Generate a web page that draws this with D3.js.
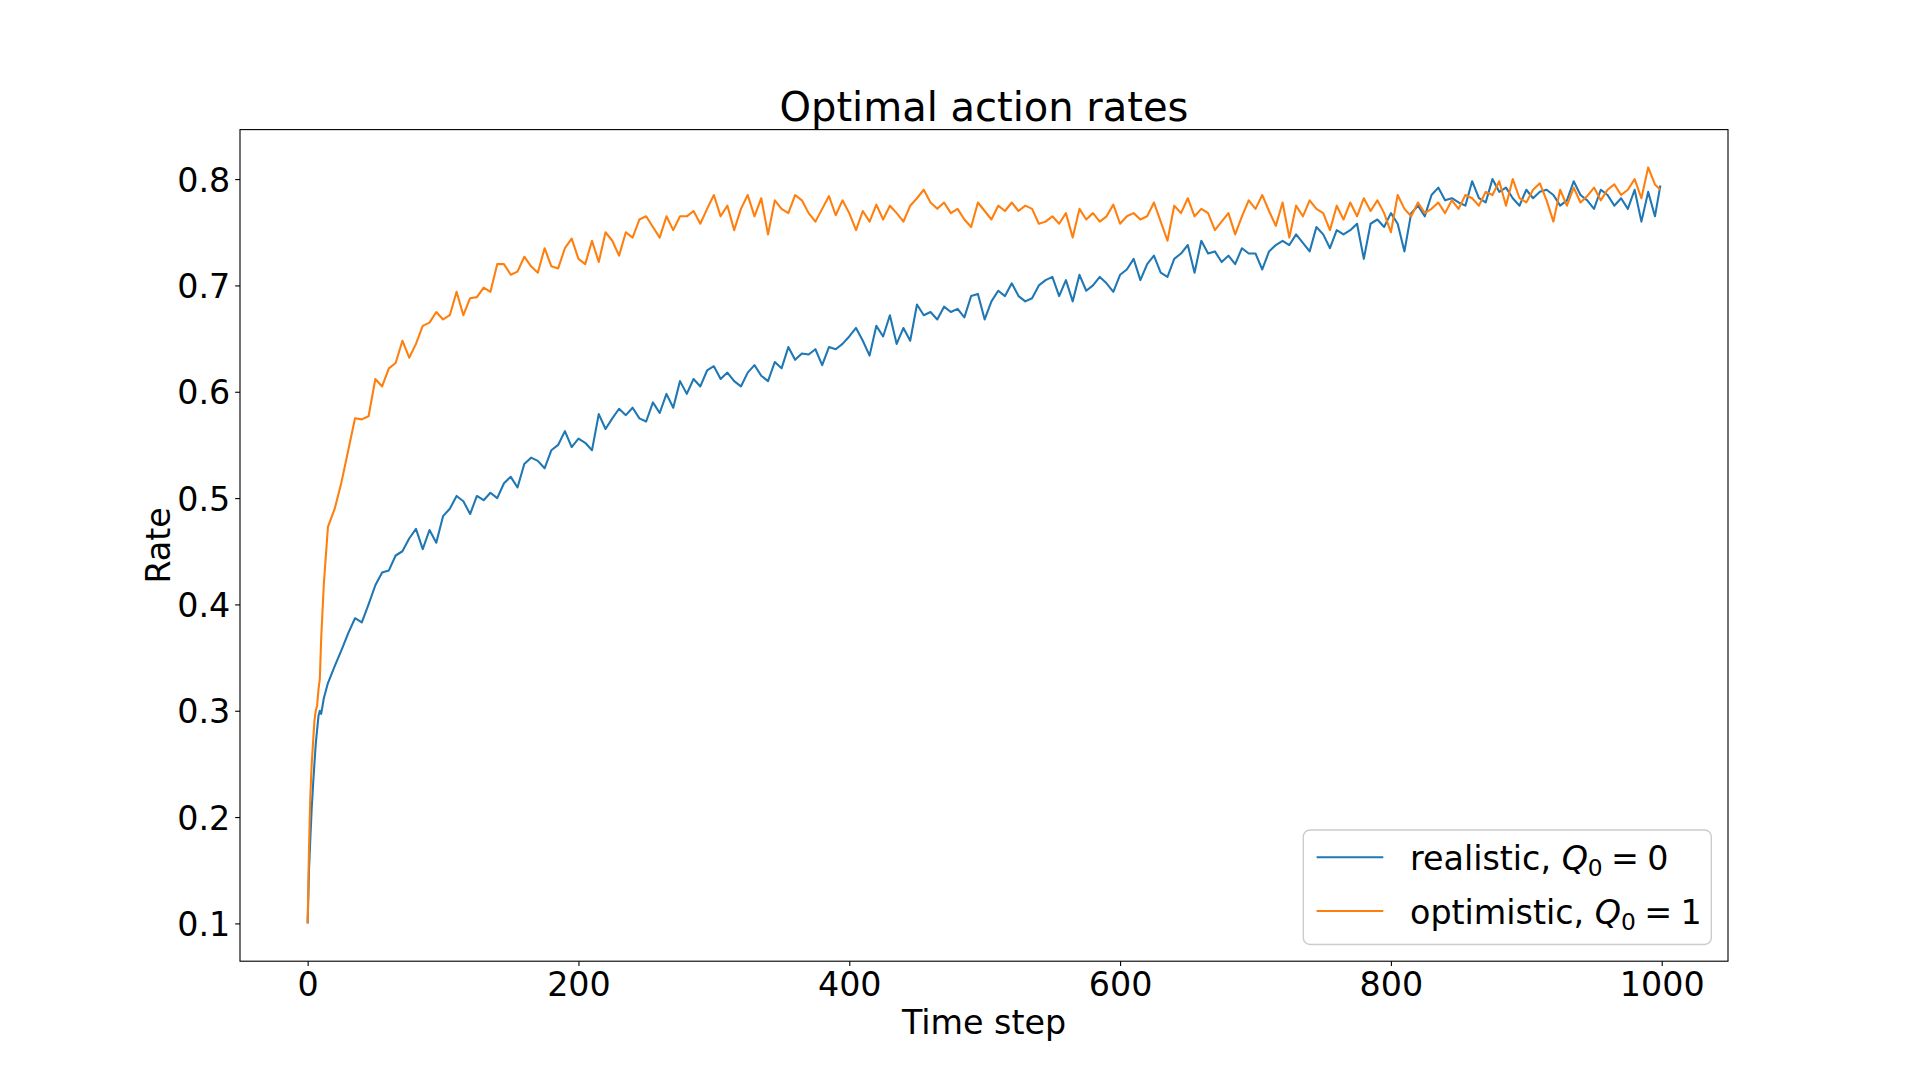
<!DOCTYPE html>
<html>
<head>
<meta charset="utf-8">
<script src="https://cdn.jsdelivr.net/npm/d3@7"></script>
<style>
  body { margin: 0; background: #fff; }
  svg { display: block; font-family: "DejaVu Sans", sans-serif; }
</style>
</head>
<body>
<div id="chart"></div>
<script>
'use strict';

const steps = [0, 1, 2, 3, 4, 5, 6, 7, 8, 9, 10, 12,
  15, 20, 25, 30, 35, 40, 45, 50, 55, 60, 65, 70, 75, 80, 85, 90, 95, 100,
  105, 110, 115, 120, 125, 130, 135, 140, 145, 150, 155, 160, 165, 170, 175, 180, 185, 190, 195, 200,
  205, 210, 215, 220, 225, 230, 235, 240, 245, 250, 255, 260, 265, 270, 275, 280, 285, 290, 295, 300,
  305, 310, 315, 320, 325, 330, 335, 340, 345, 350, 355, 360, 365, 370, 375, 380, 385, 390, 395, 400,
  405, 410, 415, 420, 425, 430, 435, 440, 445, 450, 455, 460, 465, 470, 475, 480, 485, 490, 495, 500,
  505, 510, 515, 520, 525, 530, 535, 540, 545, 550, 555, 560, 565, 570, 575, 580, 585, 590, 595, 600,
  605, 610, 615, 620, 625, 630, 635, 640, 645, 650, 655, 660, 665, 670, 675, 680, 685, 690, 695, 700,
  705, 710, 715, 720, 725, 730, 735, 740, 745, 750, 755, 760, 765, 770, 775, 780, 785, 790, 795, 800,
  805, 810, 815, 820, 825, 830, 835, 840, 845, 850, 855, 860, 865, 870, 875, 880, 885, 890, 895, 900,
  905, 910, 915, 920, 925, 930, 935, 940, 945, 950, 955, 960, 965, 970, 975, 980, 985, 990, 995, 999];

const realistic = [0.100, 0.150, 0.180, 0.208, 0.230, 0.250, 0.269, 0.282, 0.295, 0.300, 0.297, 0.312,
  0.326, 0.342, 0.357, 0.373, 0.387, 0.383, 0.400, 0.418, 0.430, 0.432,
  0.446, 0.450, 0.462, 0.471, 0.452, 0.470, 0.458, 0.483, 0.490, 0.502,
  0.497, 0.485, 0.502, 0.498, 0.505, 0.500, 0.514, 0.520, 0.510, 0.532,
  0.538, 0.535, 0.528, 0.545, 0.550, 0.563, 0.548, 0.556, 0.552, 0.545,
  0.579, 0.565, 0.575, 0.584, 0.578, 0.585, 0.575, 0.572, 0.590, 0.580,
  0.598, 0.585, 0.610, 0.598, 0.612, 0.605, 0.620, 0.624, 0.612, 0.618,
  0.610, 0.605, 0.618, 0.625, 0.615, 0.610, 0.628, 0.622, 0.642, 0.630,
  0.636, 0.635, 0.640, 0.625, 0.642, 0.640, 0.645, 0.652, 0.660, 0.648,
  0.634, 0.662, 0.652, 0.672, 0.645, 0.660, 0.648, 0.682, 0.672, 0.675,
  0.668, 0.680, 0.675, 0.678, 0.670, 0.690, 0.692, 0.668, 0.685, 0.695,
  0.690, 0.702, 0.690, 0.685, 0.688, 0.700, 0.705, 0.708, 0.690, 0.705,
  0.685, 0.710, 0.695, 0.700, 0.708, 0.702, 0.694, 0.710, 0.715, 0.725,
  0.705, 0.720, 0.728, 0.712, 0.708, 0.725, 0.730, 0.738, 0.712, 0.742,
  0.730, 0.732, 0.722, 0.728, 0.720, 0.735, 0.730, 0.730, 0.715, 0.732,
  0.738, 0.742, 0.738, 0.748, 0.740, 0.732, 0.755, 0.748, 0.735, 0.752,
  0.748, 0.752, 0.758, 0.725, 0.758, 0.762, 0.755, 0.768, 0.758, 0.732,
  0.768, 0.775, 0.765, 0.785, 0.792, 0.780, 0.782, 0.778, 0.775, 0.798,
  0.782, 0.778, 0.800, 0.788, 0.792, 0.782, 0.775, 0.790, 0.782, 0.788,
  0.790, 0.785, 0.775, 0.780, 0.798, 0.785, 0.780, 0.772, 0.790, 0.785,
  0.775, 0.782, 0.772, 0.790, 0.760, 0.788, 0.765, 0.794];

const optimistic = [0.100, 0.170, 0.220, 0.250, 0.270, 0.290, 0.300, 0.305, 0.320, 0.330, 0.368, 0.420,
  0.473, 0.490, 0.515, 0.545, 0.575, 0.574, 0.577, 0.612, 0.605, 0.622,
  0.627, 0.648, 0.632, 0.645, 0.662, 0.665, 0.675, 0.668, 0.672, 0.694,
  0.672, 0.688, 0.689, 0.698, 0.694, 0.720, 0.720, 0.710, 0.713, 0.727,
  0.718, 0.712, 0.735, 0.718, 0.716, 0.735, 0.744, 0.725, 0.720, 0.742,
  0.722, 0.750, 0.742, 0.728, 0.750, 0.745, 0.762, 0.765, 0.755, 0.745,
  0.765, 0.752, 0.765, 0.765, 0.770, 0.758, 0.772, 0.785, 0.765, 0.775,
  0.752, 0.772, 0.785, 0.765, 0.782, 0.748, 0.780, 0.772, 0.768, 0.785,
  0.780, 0.768, 0.760, 0.772, 0.784, 0.766, 0.780, 0.768, 0.752, 0.770,
  0.760, 0.776, 0.762, 0.775, 0.768, 0.760, 0.775, 0.782, 0.790, 0.778,
  0.772, 0.778, 0.768, 0.772, 0.762, 0.755, 0.778, 0.770, 0.762, 0.775,
  0.770, 0.778, 0.770, 0.775, 0.772, 0.758, 0.760, 0.765, 0.758, 0.768,
  0.745, 0.772, 0.762, 0.768, 0.760, 0.765, 0.776, 0.758, 0.765, 0.768,
  0.762, 0.765, 0.778, 0.760, 0.742, 0.775, 0.768, 0.782, 0.765, 0.772,
  0.768, 0.752, 0.760, 0.768, 0.748, 0.765, 0.780, 0.772, 0.785, 0.770,
  0.756, 0.778, 0.745, 0.775, 0.765, 0.780, 0.772, 0.768, 0.752, 0.775,
  0.762, 0.778, 0.765, 0.782, 0.770, 0.780, 0.768, 0.750, 0.785, 0.772,
  0.765, 0.778, 0.768, 0.772, 0.778, 0.768, 0.780, 0.772, 0.785, 0.782,
  0.775, 0.788, 0.785, 0.798, 0.775, 0.800, 0.782, 0.778, 0.790, 0.796,
  0.780, 0.760, 0.790, 0.775, 0.792, 0.778, 0.784, 0.792, 0.780, 0.790,
  0.795, 0.785, 0.790, 0.800, 0.782, 0.811, 0.795, 0.790];

const xTicks = [0, 200, 400, 600, 800, 1000];
const yTicks = [0.1, 0.2, 0.3, 0.4, 0.5, 0.6, 0.7, 0.8];

let width = 1920,
    height = 1080,
    margin = {top: 129.6, right: 192, bottom: 118.8, left: 240},
    fontSize = 33.33,
    tickLen = 4.86;

let plotRight = width - margin.right,
    plotBottom = height - margin.bottom;

let svg = d3.select('#chart').append('svg')
    .attr('width', width)
    .attr('height', height);

// 5% margins like matplotlib
let xMin = d3.min(steps), xMax = d3.max(steps),
    xPad = (xMax - xMin) * 0.05;
let allY = realistic.concat(optimistic),
    yMin = d3.min(allY), yMax = d3.max(allY),
    yPad = (yMax - yMin) * 0.05;

let x = d3.scaleLinear()
    .domain([xMin - xPad, xMax + xPad])
    .range([margin.left, plotRight]);

let y = d3.scaleLinear()
    .domain([yMin - yPad, yMax + yPad])
    .range([plotBottom, margin.top]);

//xAxis
let xAxis = svg.append('g')
    .attr('transform', 'translate(0,' + plotBottom + ')')
    .call(d3.axisBottom(x)
      .tickValues(xTicks)
      .tickSize(tickLen)
      .tickPadding(tickLen)
      .tickFormat(d3.format('d')));

//yAxis
let yAxis = svg.append('g')
    .attr('transform', 'translate(' + margin.left + ',0)')
    .call(d3.axisLeft(y)
      .tickValues(yTicks)
      .tickSize(tickLen)
      .tickPadding(tickLen)
      .tickFormat(d3.format('.1f')));

[xAxis, yAxis].forEach(function(g) {
  g.select('.domain').remove();
  g.selectAll('line').attr('stroke', '#000').attr('stroke-width', 1.11);
  g.selectAll('text')
    .attr('fill', '#000')
    .style('font-family', '"DejaVu Sans", sans-serif')
    .style('font-size', fontSize + 'px');
});
xAxis.selectAll('text').attr('dy', '0.74em');
yAxis.selectAll('text').attr('dy', '0.36em');

let line = d3.line()
    .x((d, i) => x(steps[i]))
    .y(d => y(d));

//series, blue first so orange sits on top
svg.append('path')
    .datum(realistic)
    .attr('d', line)
    .attr('fill', 'none')
    .attr('stroke', '#1f77b4')
    .attr('stroke-width', 2.08)
    .attr('stroke-linejoin', 'round');

svg.append('path')
    .datum(optimistic)
    .attr('d', line)
    .attr('fill', 'none')
    .attr('stroke', '#ff7f0e')
    .attr('stroke-width', 2.08)
    .attr('stroke-linejoin', 'round');

//frame
svg.append('rect')
    .attr('x', margin.left)
    .attr('y', margin.top)
    .attr('width', plotRight - margin.left)
    .attr('height', plotBottom - margin.top)
    .attr('fill', 'none')
    .attr('stroke', '#000')
    .attr('stroke-width', 1.11);

//title and labels
svg.append('text')
    .attr('x', (margin.left + plotRight) / 2)
    .attr('y', margin.top - 8.33)
    .attr('text-anchor', 'middle')
    .style('font-size', '40px')
    .text('Optimal action rates');

svg.append('text')
    .attr('x', (margin.left + plotRight) / 2)
    .attr('y', 1034)
    .attr('text-anchor', 'middle')
    .style('font-size', fontSize + 'px')
    .text('Time step');

svg.append('text')
    .attr('transform', 'translate(170,' + (margin.top + plotBottom) / 2 + ')rotate(-90)')
    .attr('text-anchor', 'middle')
    .style('font-size', fontSize + 'px')
    .text('Rate');

//legend
let legendItems = [
  {name: 'realistic, ', q: '0', color: '#1f77b4'},
  {name: 'optimistic, ', q: '1', color: '#ff7f0e'}
];

let legend = svg.append('g');

legend.append('rect')
    .attr('x', 1303.3)
    .attr('y', 830)
    .attr('width', plotRight - 16.7 - 1303.3)
    .attr('height', plotBottom - 16.7 - 830)
    .attr('rx', 6.7)
    .attr('fill', '#fff')
    .attr('fill-opacity', 0.8)
    .attr('stroke', '#cccccc')
    .attr('stroke-width', 1.39);

legendItems.forEach(function(item, i) {
  let ly = 857.3 + i * 53.7;
  legend.append('line')
      .attr('x1', 1316.6)
      .attr('x2', 1383.3)
      .attr('y1', ly)
      .attr('y2', ly)
      .attr('stroke', item.color)
      .attr('stroke-width', 2.08);

  let t = legend.append('text')
      .attr('x', 1410)
      .attr('y', ly + 12.5)
      .style('font-size', fontSize + 'px')
      .style('white-space', 'pre');
  t.append('tspan').text(item.name);
  t.append('tspan').style('font-style', 'italic').text('Q');
  t.append('tspan').attr('dy', 6).style('font-size', (fontSize * 0.7) + 'px').text('0');
  // math spacing around "=" is a bit tighter than a normal space
  t.append('tspan').attr('dy', -6).text('\u2005=\u2005' + item.q);
});
</script>
</body>
</html>
